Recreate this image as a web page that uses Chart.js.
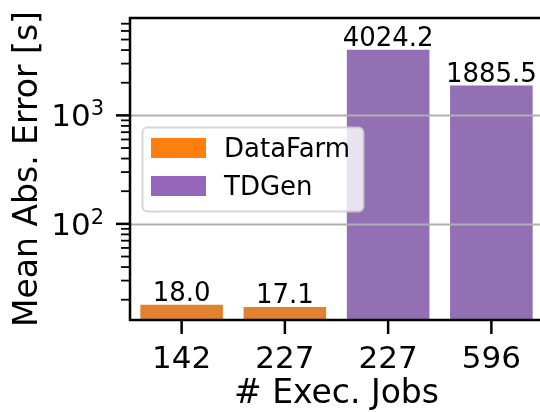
<!DOCTYPE html>
<html>
<head>
<meta charset="utf-8">
<script src="https://cdn.jsdelivr.net/npm/chart.js@4/dist/chart.umd.min.js"></script>
<style>
  html, body { margin: 0; padding: 0; background: #ffffff; overflow: hidden; }
  #wrap { width: 540px; height: 412px; overflow: hidden; }
  canvas { display: block; }
</style>
</head>
<body>
<div id="wrap"><canvas id="chart" width="544" height="412"></canvas></div>
<script>
// Number of executed jobs per experiment (x categories)
const jobs = ['142', '227', '227', '596'];
// Mean absolute error [s] per generator; null where the generator was not run
const dataFarm = [18.0, 17.1, null, null];
const tdGen = [null, null, 4024.2, 1885.5];
const seriesNames = ['DataFarm', 'TDGen'];
// Log axis range and labelled decades
const yMin = 13;
const yMax = 7900;
const majorTicks = [100, 1000];
const majorLabels = ['2', '3'];

const FONT = '"DejaVu Sans", sans-serif';
const barColors = ['#e0822f', '#9370b4'];
const legendColors = ['#ff7f0e', '#9467bd'];

// Axes, grid, value labels and the legend, drawn on top of the bars
const decorations = {
  id: 'decorations',
  afterDatasetsDraw(chart) {
    const ctx = chart.ctx;
    const area = chart.chartArea;
    const xs = chart.scales.x;
    const ys = chart.scales.y;
    ctx.save();

    // horizontal grid at the decades
    ctx.strokeStyle = '#b0b0b0';
    ctx.lineWidth = 2;
    majorTicks.forEach(v => {
      const y = Math.round(ys.getPixelForValue(v)) + 0.5;
      ctx.beginPath();
      ctx.moveTo(area.left, y);
      ctx.lineTo(area.right, y);
      ctx.stroke();
    });

    // value labels above bars
    ctx.fillStyle = '#000';
    ctx.font = '26px ' + FONT;
    ctx.textAlign = 'center';
    ctx.textBaseline = 'alphabetic';
    chart.data.datasets.forEach((ds, di) => {
      const meta = chart.getDatasetMeta(di);
      ds.data.forEach((v, i) => {
        if (v === null) return;
        const bar = meta.data[i];
        ctx.fillText(v.toFixed(1), bar.x, bar.y - 4);
      });
    });

    // spines
    ctx.strokeStyle = '#000';
    ctx.lineWidth = 2.5;
    ctx.beginPath();
    ctx.moveTo(area.left, area.top);
    ctx.lineTo(area.right, area.top);
    ctx.lineTo(area.right, area.bottom);
    ctx.lineTo(area.left, area.bottom);
    ctx.closePath();
    ctx.stroke();

    // y ticks: major and minor
    ctx.lineWidth = 2.5;
    majorTicks.forEach(v => {
      const y = ys.getPixelForValue(v);
      ctx.beginPath();
      ctx.moveTo(area.left - 14, y);
      ctx.lineTo(area.left, y);
      ctx.stroke();
    });
    ctx.lineWidth = 1.8;
    [10, 100, 1000].forEach(d => {
      for (let m = 2; m <= 9; m++) {
        const v = m * d;
        if (v < yMin || v > yMax) continue;
        const y = ys.getPixelForValue(v);
        ctx.beginPath();
        ctx.moveTo(area.left - 9, y);
        ctx.lineTo(area.left, y);
        ctx.stroke();
      }
    });

    // y tick labels 10^n
    majorTicks.forEach((v, i) => {
      const y = ys.getPixelForValue(v);
      ctx.font = '21px ' + FONT;
      const supW = ctx.measureText(majorLabels[i]).width;
      const right = area.left - 26;
      ctx.textAlign = 'left';
      ctx.fillText(majorLabels[i], right - supW, y);
      ctx.font = '31px ' + FONT;
      ctx.textAlign = 'right';
      ctx.fillText('10', right - supW, y + 11);
    });

    // x ticks and labels
    ctx.lineWidth = 2.5;
    ctx.font = '31px ' + FONT;
    ctx.textAlign = 'center';
    jobs.forEach((lab, i) => {
      const x = xs.getPixelForValue(i);
      ctx.beginPath();
      ctx.moveTo(x, area.bottom);
      ctx.lineTo(x, area.bottom + 14);
      ctx.stroke();
      ctx.fillText(lab, x, 368);
    });

    // axis titles
    ctx.font = '33px ' + FONT;
    ctx.fillText('# Exec. Jobs', (area.left + area.right) / 2, 403);
    ctx.save();
    ctx.translate(37, (area.top + area.bottom) / 2);
    ctx.rotate(-Math.PI / 2);
    ctx.fillText('Mean Abs. Error [s]', 0, 0);
    ctx.restore();

    // legend
    const bx = 142.5, by = 127.5, bw = 221, bh = 84, r = 5;
    ctx.beginPath();
    ctx.moveTo(bx + r, by);
    ctx.arcTo(bx + bw, by, bx + bw, by + bh, r);
    ctx.arcTo(bx + bw, by + bh, bx, by + bh, r);
    ctx.arcTo(bx, by + bh, bx, by, r);
    ctx.arcTo(bx, by, bx + bw, by, r);
    ctx.closePath();
    ctx.fillStyle = 'rgba(255,255,255,0.8)';
    ctx.fill();
    ctx.strokeStyle = 'rgba(204,204,204,0.8)';
    ctx.lineWidth = 2;
    ctx.stroke();

    ctx.font = '26px ' + FONT;
    ctx.textAlign = 'left';
    seriesNames.forEach((name, i) => {
      const top = 138 + i * 38;
      ctx.fillStyle = legendColors[i];
      ctx.fillRect(151, top, 55, 20);
      ctx.fillStyle = '#000';
      ctx.fillText(name, 224, top + 19);
    });

    ctx.restore();
  }
};

new Chart(document.getElementById('chart'), {
  type: 'bar',
  data: {
    labels: jobs,
    datasets: [
      { label: seriesNames[0], data: dataFarm, backgroundColor: barColors[0] },
      { label: seriesNames[1], data: tdGen, backgroundColor: barColors[1] }
    ]
  },
  options: {
    responsive: false,
    animation: false,
    devicePixelRatio: 1,
    layout: { padding: { left: 130, top: 18, right: 1, bottom: 92 } },
    datasets: {
      bar: { barPercentage: 0.8, categoryPercentage: 1, skipNull: true, borderWidth: 0 }
    },
    plugins: { legend: { display: false }, tooltip: { enabled: false } },
    scales: {
      x: { display: false, offset: true },
      y: { display: false, type: 'logarithmic', min: yMin, max: yMax }
    }
  },
  plugins: [decorations]
});
</script>
</body>
</html>
